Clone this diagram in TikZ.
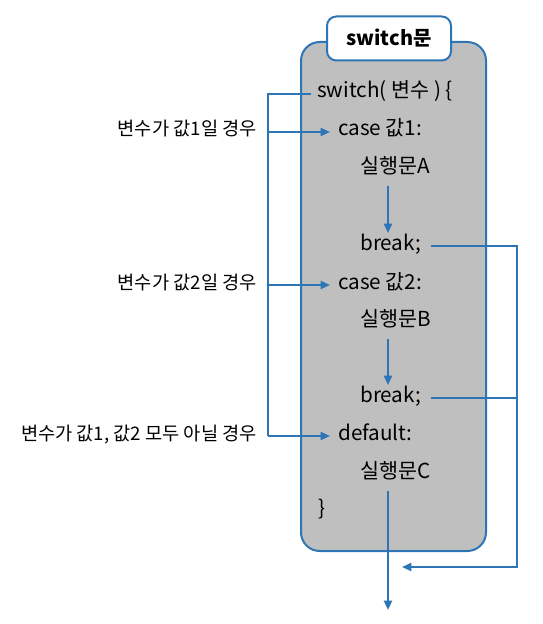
\documentclass[tikz,border=0pt]{standalone}
\usepackage{fontspec}
\setmainfont{Noto Sans CJK KR}
\usetikzlibrary{arrows.meta,calc}
\definecolor{lineblue}{RGB}{46,117,182}
\definecolor{boxgray}{RGB}{191,191,191}

\begin{document}
\begin{tikzpicture}[
		x=0.75pt,y=-0.75pt,
		code/.style={anchor=west,inner sep=0pt,font=\fontsize{15.5}{18}\selectfont,
			text height=0.8em,text depth=0.2em},
		cond/.style={code,anchor=east,font=\fontsize{14}{16}\selectfont},
		wire/.style={draw=lineblue,line width=1.5pt},
		flow/.style={wire,-{Triangle[length=7pt,width=6pt]}},
		block/.style={wire,fill=boxgray,rounded corners=14pt},
		title/.style={wire,fill=white,rounded corners=7pt,minimum width=93pt,
			minimum height=33pt,font=\bfseries\fontsize{15}{17}\selectfont}
	]
	\useasboundingbox (0,0) rectangle (542,624);
	\path[block] (301,42) rectangle (486,551);
	\node[title] (head) at (389,38.5) {switch문};
	%
	\node[code] (sw) at (317,94)  {switch( 변수 ) \{};
	\node[code] (c1) at (338,132) {case 값1:};
	\node[code] (s1) at (360,169) {실행문A};
	\node[code] (b1) at (360,246) {break;};
	\node[code] (c2) at (338,285) {case 값2:};
	\node[code] (s2) at (360,322) {실행문B};
	\node[code] (b2) at (360,398) {break;};
	\node[code] (df) at (338,436) {default:};
	\node[code] (s3) at (360,474) {실행문C};
	\node[code] (cl) at (318,511) {\}};
	%
	\node[cond] (l1) at (257,132) {변수가 값1일 경우};
	\node[cond] (l2) at (257,285) {변수가 값2일 경우};
	\node[cond] (l3) at (257,436) {변수가 값1, 값2 모두 아닐 경우};
	% coordinates
	\coordinate (bus)   at (268,0);
	\coordinate (spine) at (388,0);
	\coordinate (rail)  at (517,0);
	\coordinate (merge) at (402,567);
	\coordinate (out)   at (388,610);
	%
	\draw[wire] ($ (sw.west) + (-6,0) $) -- (sw.west -| bus) -- (df.west -| bus);
	\foreach \cs/\lb in {c1/l1,c2/l2,df/l3}
		\draw[flow] (\lb.east -| bus) -- ($ (\cs.west) + (-8,0) $);
	\draw[flow] ($ (s1.south -| spine) + (0,10) $) -- ($ (b1.north -| spine) + (0,-6) $);
	\draw[flow] ($ (s2.south -| spine) + (0,10) $) -- ($ (b2.north -| spine) + (0,-6) $);
	\draw[flow] ($ (s3.south -| spine) + (0,10) $) -- (out);
	\draw[flow] ($ (b1.east) + (10,0) $) -- (b1.east -| rail) |- (merge);
	\draw[wire] ($ (b2.east) + (10,0) $) -- (b2.east -| rail);
\end{tikzpicture}
\end{document}
